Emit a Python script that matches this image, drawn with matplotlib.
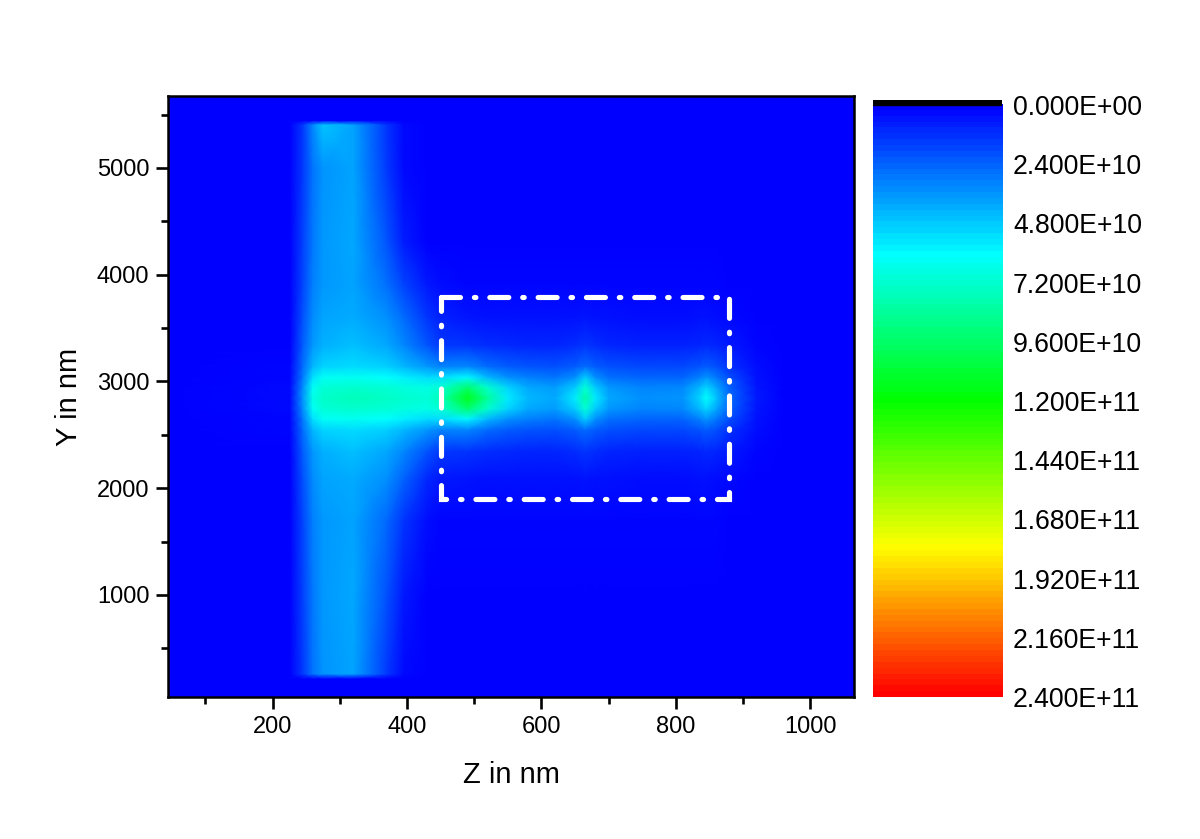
#field map with rainbow scale
import numpy as np
import matplotlib
matplotlib.use("Agg")
import matplotlib.pyplot as plt
from matplotlib.colors import LinearSegmentedColormap

plt.rcParams["font.family"] = ["Liberation Sans", "DejaVu Sans"]

# values, in units of 1E10
z_nm = [45, 226, 245, 260, 275, 320, 370, 395, 430, 450, 490, 520, 550, 580, 620, 650, 665, 680, 700, 750, 810, 835, 845, 860, 880, 920, 960, 1065]
y_nm = [45, 215, 262, 1000, 1700, 2100, 2350, 2550, 2650, 2745, 2845, 2945, 3040, 3140, 3340, 3600, 3900, 4300, 5000, 5405, 5445, 5674]
field = [
    [0, 0, 0, 0, 0, 0, 0, 0, 0, 0, 0, 0, 0, 0, 0, 0, 0, 0, 0, 0, 0, 0, 0, 0, 0, 0, 0, 0],
    [0, 0, 0, 0, 0, 0, 0, 0, 0, 0, 0, 0, 0, 0, 0, 0, 0, 0, 0, 0, 0, 0, 0, 0, 0, 0, 0, 0],
    [0, 0, 1.4, 2.8, 3.5, 3.9, 1.4, .2, 0, 0, 0, 0, 0, 0, 0, 0, 0, 0, 0, 0, 0, 0, 0, 0, 0, 0, 0, 0],
    [0, 0, 1.5, 2.9, 3.6, 4.0, 1.9, .6, 0, 0, 0, 0, 0, 0, 0, 0, 0, 0, 0, 0, 0, 0, 0, 0, 0, 0, 0, 0],
    [0, 0, 1.6, 3.0, 3.6, 3.9, 2.5, 1.3, .3, .1, .1, .1, .1, .1, .1, .1, .1, .1, .1, .1, .1, .1, .1, .1, 0, 0, 0, 0],
    [0, 0, 1.9, 3.3, 3.9, 4.1, 3.4, 2.4, 1.0, .6, .5, .4, .4, .4, .4, .4, .5, .4, .4, .3, .3, .4, .4, .3, .2, 0, 0, 0],
    [0, 0, 2.2, 3.6, 4.2, 4.5, 4.0, 3.2, 2.0, 1.4, 1.3, 1.1, 1.0, .9, .9, 1.1, 1.3, 1.1, .9, .8, .8, .9, 1.0, .9, .6, .1, 0, 0],
    [0, .1, 2.6, 4.4, 5.0, 5.2, 4.9, 4.4, 3.6, 3.1, 3.2, 2.6, 2.2, 2.0, 1.9, 2.2, 2.6, 2.2, 1.9, 1.7, 1.7, 2.0, 2.2, 1.9, 1.2, .3, 0, 0],
    [0, .1, 2.9, 5.3, 6.2, 6.3, 6.0, 5.7, 5.2, 5.2, 5.9, 4.4, 3.4, 3.0, 2.8, 3.4, 4.8, 3.4, 2.7, 2.4, 2.4, 3.0, 3.5, 2.9, 1.8, .4, 0, 0],
    [0, .2, 3.3, 6.2, 7.0, 7.2, 7.0, 6.8, 6.6, 7.0, 9.4, 7.2, 5.0, 4.0, 3.7, 4.8, 7.0, 4.8, 3.6, 3.1, 3.2, 4.4, 5.0, 4.0, 2.3, .5, 0, 0],
    [0, .2, 3.5, 6.6, 7.3, 7.6, 7.4, 7.2, 7.0, 7.6, 11.4, 8.4, 5.6, 4.4, 4.0, 5.6, 8.0, 5.6, 4.0, 3.4, 3.5, 5.0, 6.0, 4.6, 2.5, .6, 0, 0],
    [0, .2, 3.3, 6.2, 7.0, 7.2, 7.0, 6.8, 6.6, 7.0, 9.4, 7.2, 5.0, 4.0, 3.7, 4.8, 7.0, 4.8, 3.6, 3.1, 3.2, 4.4, 5.0, 4.0, 2.3, .5, 0, 0],
    [0, .1, 2.9, 5.3, 6.2, 6.3, 6.0, 5.7, 5.2, 5.2, 5.9, 4.4, 3.4, 3.0, 2.8, 3.4, 4.8, 3.4, 2.7, 2.4, 2.4, 3.0, 3.5, 2.9, 1.8, .4, 0, 0],
    [0, .1, 2.6, 4.4, 5.0, 5.2, 4.9, 4.4, 3.6, 3.1, 3.2, 2.6, 2.2, 2.0, 1.9, 2.2, 2.6, 2.2, 1.9, 1.7, 1.7, 2.0, 2.2, 1.9, 1.2, .3, 0, 0],
    [0, 0, 2.2, 3.6, 4.2, 4.5, 4.0, 3.2, 2.0, 1.4, 1.3, 1.1, 1.0, .9, .9, 1.1, 1.3, 1.1, .9, .8, .8, .9, 1.0, .9, .6, .1, 0, 0],
    [0, 0, 1.9, 3.3, 3.9, 4.1, 3.4, 2.6, 1.3, .8, .5, .4, .4, .4, .4, .4, .5, .4, .4, .3, .3, .4, .4, .3, .2, 0, 0, 0],
    [0, 0, 1.6, 3.0, 3.6, 3.9, 2.7, 1.6, .6, .3, .1, .1, .1, .1, .1, .1, .1, .1, .1, .1, .1, .1, .1, .1, 0, 0, 0, 0],
    [0, 0, 1.5, 2.9, 3.6, 4.0, 2.0, .7, 0, 0, 0, 0, 0, 0, 0, 0, 0, 0, 0, 0, 0, 0, 0, 0, 0, 0, 0, 0],
    [0, 0, 1.4, 2.8, 3.5, 3.9, 1.4, .2, 0, 0, 0, 0, 0, 0, 0, 0, 0, 0, 0, 0, 0, 0, 0, 0, 0, 0, 0, 0],
    [0, 0, 1.4, 3.2, 4.6, 3.9, 1.3, .2, 0, 0, 0, 0, 0, 0, 0, 0, 0, 0, 0, 0, 0, 0, 0, 0, 0, 0, 0, 0],
    [0, 0, 0, 0, 0, 0, 0, 0, 0, 0, 0, 0, 0, 0, 0, 0, 0, 0, 0, 0, 0, 0, 0, 0, 0, 0, 0, 0],
    [0, 0, 0, 0, 0, 0, 0, 0, 0, 0, 0, 0, 0, 0, 0, 0, 0, 0, 0, 0, 0, 0, 0, 0, 0, 0, 0, 0],
]

scale_labels = ["0.000E+00", "2.400E+10", "4.800E+10", "7.200E+10", "9.600E+10", "1.200E+11",
                "1.440E+11", "1.680E+11", "1.920E+11", "2.160E+11", "2.400E+11"]
scale_steps = np.arange(0, 24.01, 0.24)
box_z = [450.5, 879, 879, 450.5, 450.5]
box_y = [3791, 3791, 1899, 1899, 3791]

rainbow = LinearSegmentedColormap.from_list("rb", ["#0000ff", "#00ffff", "#00ff00", "#ffff00", "#ff0000"], N=256)

fig = plt.figure(figsize=(12, 8.39), dpi=100)
W, H = 1200.0, 839.0
ax = fig.add_axes([168 / W, 1 - 697 / H, (854 - 168) / W, (697 - 96) / H])

ax.pcolormesh(z_nm, y_nm, np.array(field), cmap=rainbow, vmin=0, vmax=24, shading="gouraud", rasterized=True)
ax.plot(box_z, box_y, color="white", lw=3.7, dash_capstyle="round", dash_joinstyle="miter",
        linestyle=(0, (3.7, 2.7, 0.3, 2.7)))
ax.set_xlim(44.6, 1064.7)
ax.set_ylim(44.5, 5674)

ax.set_xticks([200, 400, 600, 800, 1000])
ax.set_xticks([100, 300, 500, 700, 900], minor=True)
ax.set_yticks([1000, 2000, 3000, 4000, 5000])
ax.set_yticks([500, 1500, 2500, 3500, 4500, 5500], minor=True)
ax.tick_params(which="major", length=8.5, width=1.9, labelsize=17, pad=5)
ax.tick_params(which="minor", length=5, width=1.9)
for s in ax.spines.values():
    s.set_linewidth(1.8)
ax.set_xlabel("Z in nm", fontsize=21, labelpad=17)
ax.set_ylabel("Y in nm", fontsize=21, labelpad=10)

# colour scale, black strip on top
cax = fig.add_axes([873 / W, 1 - 697 / H, (1002 - 873) / W, (697 - 100) / H])
cax.imshow(scale_steps.reshape(-1, 1), cmap=rainbow, vmin=0, vmax=24, aspect="auto",
           extent=[0, 1, 24, 0], interpolation="nearest")
cax.axhspan(-0.2, 0.0, color="black")
cax.set_ylim(24, -0.2)
cax.set_xticks([])
cax.set_yticks(np.arange(0, 24.01, 2.4))
cax.set_yticklabels(scale_labels)
cax.tick_params(length=0, labelsize=19.2, pad=8, labelleft=False, labelright=True)
for s in cax.spines.values():
    s.set_visible(False)

fig.savefig("out.png", dpi=100)
print("done")
